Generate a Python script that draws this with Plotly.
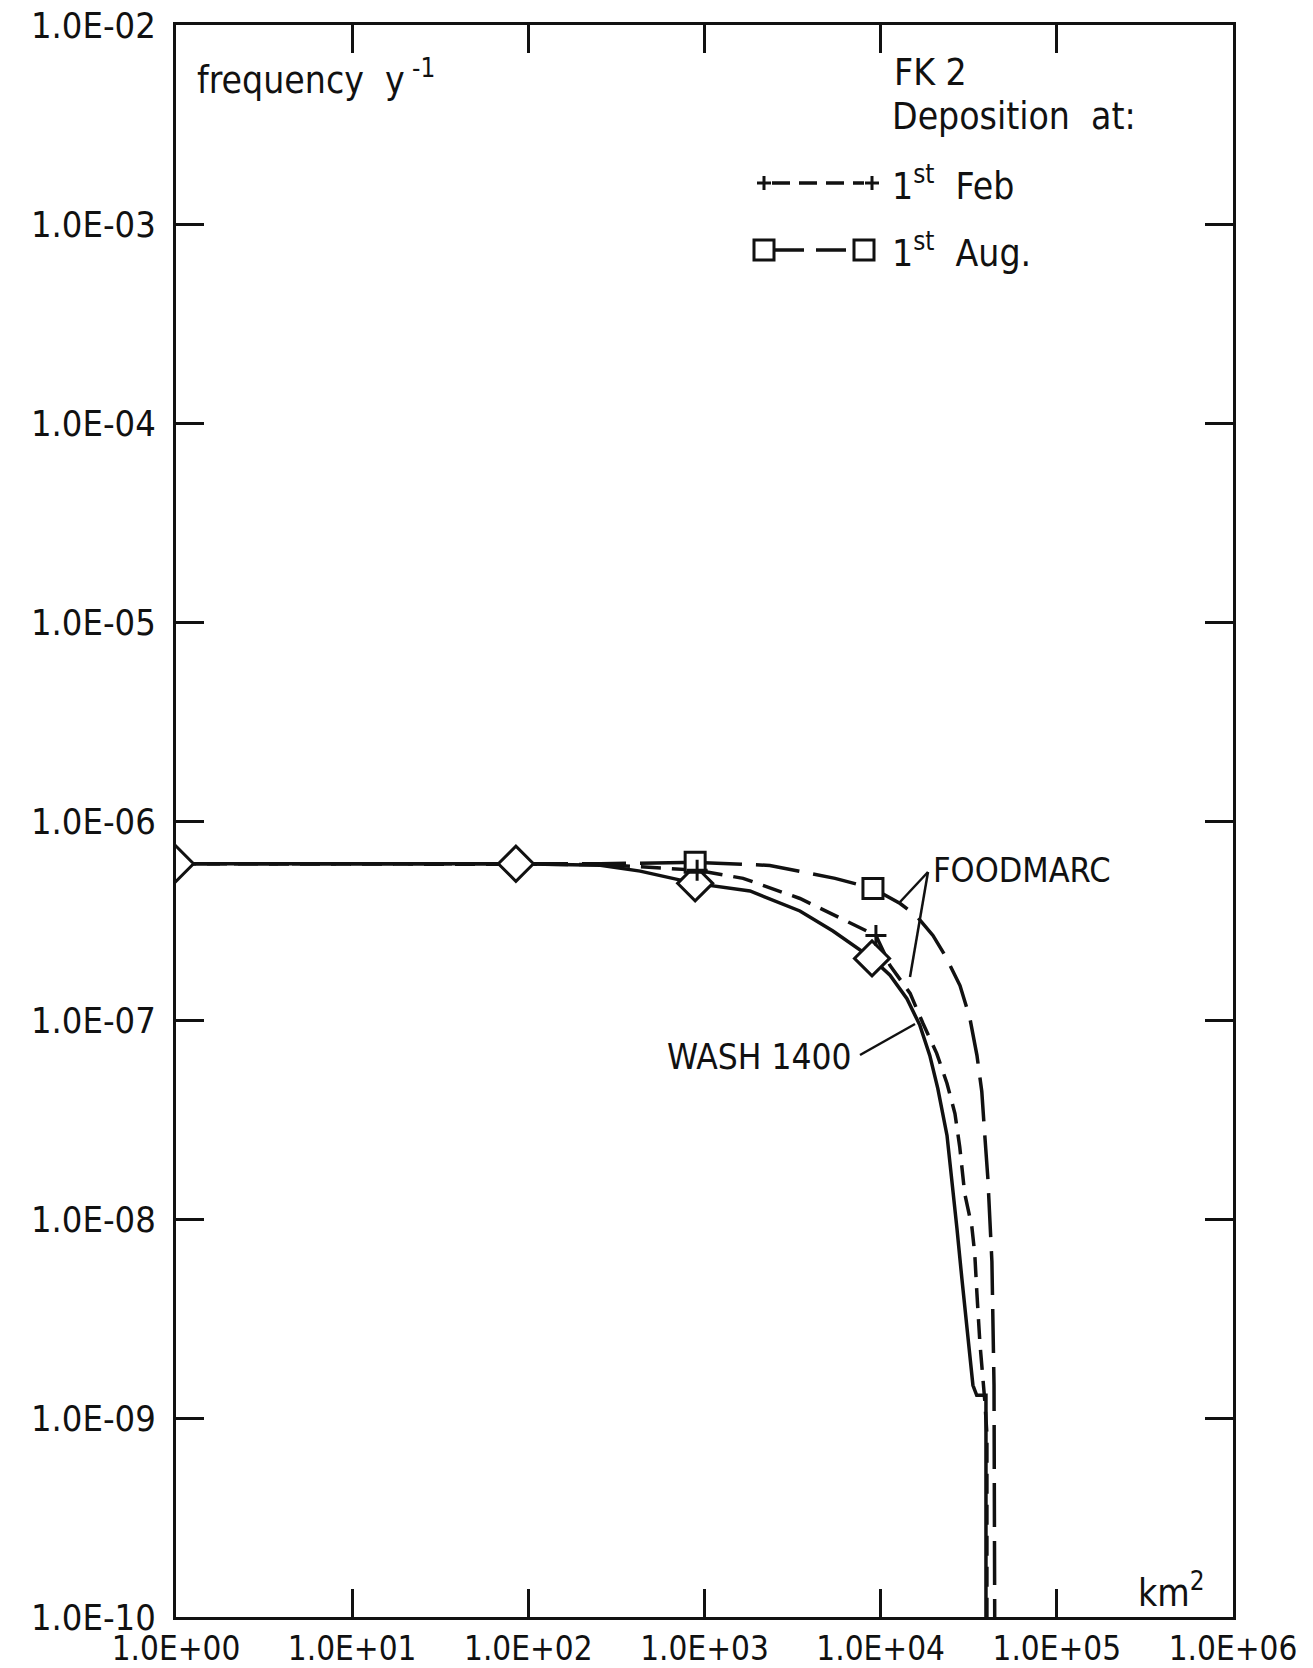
import plotly.graph_objects as go

# ---------------- data ----------------
# WASH 1400 (solid, diamonds)
wash_x = [1, 85, 256, 431, 885, 1812, 3480, 5360, 8930, 11300, 14100, 16700, 19000,
          21100, 23800, 25400, 27100, 28900, 30900, 33400, 35100, 39600, 39600]
wash_y = [6.1e-07, 6.1e-07, 6.0e-07, 5.6e-07, 4.86e-07, 4.45e-07, 3.53e-07, 2.8e-07,
          2.04e-07, 1.68e-07, 1.28e-07, 9.4e-08, 6.64e-08, 4.53e-08, 2.63e-08, 1.6e-08,
          8.97e-09, 5.03e-09, 2.82e-09, 1.46e-09, 1.3e-09, 1.3e-09, 1.0e-10]
wash_mx = [1, 85, 885, 8930]
wash_my = [6.1e-07, 6.1e-07, 4.86e-07, 2.04e-07]

# FOODMARC, deposition 1st Feb (short dash, plus)
feb_x = [1, 85, 256, 908, 1656, 3480, 5870, 9400, 11300, 14700, 17400, 20800, 23800,
         26400, 28100, 30000, 32900, 34200, 35200, 36600, 39000, 40100, 40100]
feb_y = [6.1e-07, 6.1e-07, 6.05e-07, 5.66e-07, 5.15e-07, 4.08e-07, 3.24e-07, 2.66e-07,
         1.88e-07, 1.36e-07, 9.6e-08, 6.8e-08, 4.8e-08, 3.39e-08, 2.31e-08, 1.34e-08,
         9.2e-09, 6.7e-09, 4.2e-09, 2.37e-09, 1.22e-09, 8.3e-10, 1.0e-10]
feb_mx = [908, 9400]
feb_my = [5.66e-07, 2.66e-07]

# FOODMARC, deposition 1st Aug (long dash, squares)
aug_x = [1, 85, 256, 885, 2350, 5510, 9040, 12900, 16100, 19800, 23200, 28200, 32100,
         35200, 37500, 39000, 40600, 42800, 43400, 44000, 44400]
aug_y = [6.1e-07, 6.1e-07, 6.1e-07, 6.2e-07, 5.98e-07, 5.15e-07, 4.58e-07, 3.85e-07,
         3.31e-07, 2.66e-07, 2.11e-07, 1.49e-07, 1.02e-07, 6.64e-08, 4.37e-08, 2.63e-08,
         1.6e-08, 6.1e-09, 2.8e-09, 1.46e-09, 1.0e-10]
aug_mx = [885, 9040]
aug_my = [6.2e-07, 4.58e-07]

x_tickvals = [1, 10, 100, 1000, 10000, 100000, 1000000]
x_ticktext = ["1.0E+00", "1.0E+01", "1.0E+02", "1.0E+03", "1.0E+04", "1.0E+05", "1.0E+06"]
y_tickvals = [1e-10, 1e-09, 1e-08, 1e-07, 1e-06, 1e-05, 1e-04, 1e-03, 1e-02]
y_ticktext = ["1.0E-10", "1.0E-09", "1.0E-08", "1.0E-07", "1.0E-06", "1.0E-05",
              "1.0E-04", "1.0E-03", "1.0E-02"]

# ---------------- layout geometry ----------------
W, H = 1313, 1668
ML, MR, MT, MB = 176, 80, 25, 51
PW, PH = W - ML - MR, H - MT - MB
FONT = "DejaVu Sans Condensed, Liberation Sans Narrow, DejaVu Sans, sans-serif"
INK = "#111111"


def px(X, Y):
    return (X - ML) / PW, (H - MB - Y) / PH


fig = go.Figure()

fig.add_trace(go.Scatter(x=aug_x, y=aug_y, mode="lines",
                         line=dict(color=INK, width=3.5, dash="44px,14px"),
                         showlegend=False, hoverinfo="skip"))
fig.add_trace(go.Scatter(x=feb_x, y=feb_y, mode="lines",
                         line=dict(color=INK, width=3.5, dash="20px,11px"),
                         showlegend=False, hoverinfo="skip"))
fig.add_trace(go.Scatter(x=wash_x, y=wash_y, mode="lines",
                         line=dict(color=INK, width=3.5),
                         showlegend=False, hoverinfo="skip"))
fig.add_trace(go.Scatter(x=wash_mx, y=wash_my, mode="markers",
                         marker=dict(symbol="diamond", size=27, color="white",
                                     line=dict(color=INK, width=3)),
                         showlegend=False, hoverinfo="skip"))
fig.add_trace(go.Scatter(x=aug_mx, y=aug_my, mode="markers",
                         marker=dict(symbol="square", size=20, color="white",
                                     line=dict(color=INK, width=3)),
                         showlegend=False, hoverinfo="skip"))
fig.add_trace(go.Scatter(x=feb_mx, y=feb_my, mode="markers",
                         marker=dict(symbol="cross-thin", size=15, color=INK,
                                     line=dict(color=INK, width=3)),
                         showlegend=False, hoverinfo="skip"))

axis_common = dict(showline=True, linecolor=INK, linewidth=3, mirror="ticks",
                   ticks="inside", ticklen=28, tickwidth=3, tickcolor=INK,
                   showgrid=False, zeroline=False, automargin=False)

fig.update_xaxes(type="log", range=[0, 6], tickvals=x_tickvals, ticktext=x_ticktext,
                 ticklabelstandoff=0, tickfont=dict(family=FONT, size=33, color=INK),
                 **axis_common)
fig.update_yaxes(type="log", range=[-10, -2], tickvals=y_tickvals, ticktext=y_ticktext,
                 ticklabelstandoff=10, tickfont=dict(family=FONT, size=36, color=INK),
                 **axis_common)

ann = []


def text(X, Y, s, anchor="left", size=37):
    x, y = px(X, Y)
    ann.append(dict(xref="paper", yref="paper", x=x, y=y, text=s, showarrow=False,
                    xanchor=anchor, yanchor="middle",
                    font=dict(family=FONT, size=size, color=INK)))


text(195, 78, "frequency  y<sup> -1</sup>")
text(892, 72, "FK 2")
text(890, 117, "Deposition  at:")
text(890, 183, "1<sup>st</sup>  Feb")
text(890, 250, "1<sup>st</sup>  Aug.")
text(931, 870, "FOODMARC", size=34)
text(854, 1057, "WASH 1400", anchor="right", size=35)
text(1136, 1590, "km<sup>2</sup>", size=37)

shapes = []


def seg(X0, Y0, X1, Y1, dash="solid", width=2.5):
    x0, y0 = px(X0, Y0)
    x1, y1 = px(X1, Y1)
    shapes.append(dict(type="line", xref="paper", yref="paper", x0=x0, y0=y0,
                       x1=x1, y1=y1, line=dict(color=INK, width=width, dash=dash)))


# leader lines
seg(928, 872, 900, 902)
seg(928, 872, 910, 977)
seg(860, 1055, 915, 1024)

# legend keys
seg(772, 183, 864, 183, dash="18px,9px", width=3.5)
for cx in (764, 872):
    seg(cx - 7, 183, cx + 7, 183, width=3)
    seg(cx, 176, cx, 190, width=3)
seg(774, 250, 854, 250, dash="30px,12px", width=3.5)
for cx in (764, 864):
    x0, y0 = px(cx - 10, 260)
    x1, y1 = px(cx + 10, 240)
    shapes.append(dict(type="rect", xref="paper", yref="paper", x0=x0, y0=y0,
                       x1=x1, y1=y1, line=dict(color=INK, width=3),
                       fillcolor="white"))

fig.update_layout(width=W, height=H, margin=dict(l=ML, r=MR, t=MT, b=MB),
                  paper_bgcolor="white", plot_bgcolor="white",
                  annotations=ann, shapes=shapes, showlegend=False)

fig.write_html("out.html")
